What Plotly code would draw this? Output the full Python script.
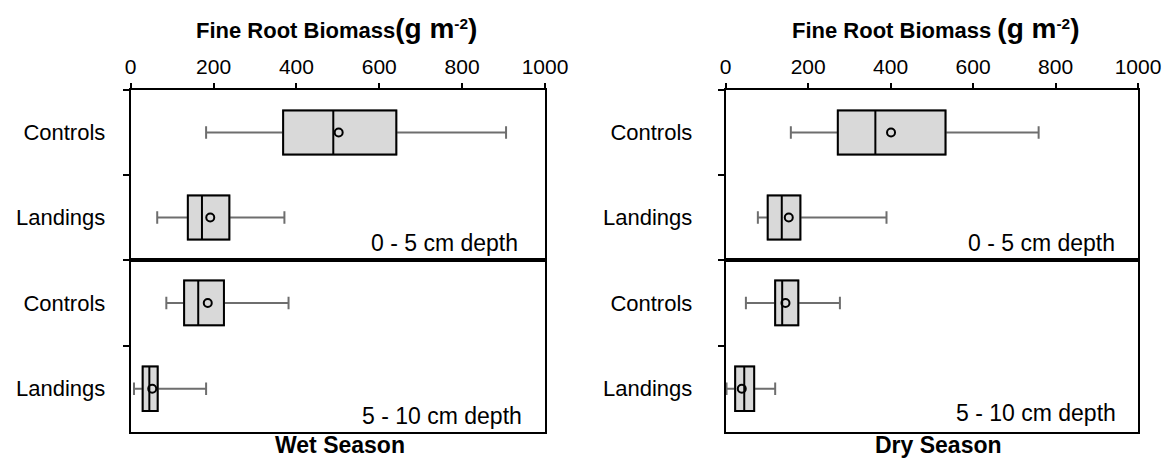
import plotly.graph_objects as go

# ---------------- data ----------------
categories = ["Controls", "Landings"]
x_ticks = [0, 200, 400, 600, 800, 1000]

# Wet season, 0-5 cm
wet_05_lf = [182, 64]
wet_05_q1 = [368, 138]
wet_05_med = [489, 172]
wet_05_q3 = [641, 238]
wet_05_uf = [906, 371]
wet_05_mean = [502, 192]
# Wet season, 5-10 cm
wet_510_lf = [86, 8]
wet_510_q1 = [129, 29]
wet_510_med = [163, 45]
wet_510_q3 = [225, 65]
wet_510_uf = [381, 182]
wet_510_mean = [186, 52]
# Dry season, 0-5 cm
dry_05_lf = [158, 78]
dry_05_q1 = [272, 102]
dry_05_med = [363, 136]
dry_05_q3 = [533, 181]
dry_05_uf = [759, 390]
dry_05_mean = [401, 153]
# Dry season, 5-10 cm
dry_510_lf = [49, 2]
dry_510_q1 = [120, 23]
dry_510_med = [137, 45]
dry_510_q3 = [176, 69]
dry_510_uf = [277, 120]
dry_510_mean = [145, 39]

FONT = "Liberation Sans, Arial, sans-serif"
W, H = 1165, 459

def px(x):
    return x / W

def py(y):
    return 1 - y / H

panels = [
    ("x", "y", wet_05_lf, wet_05_q1, wet_05_med, wet_05_q3, wet_05_uf, wet_05_mean),
    ("x2", "y2", dry_05_lf, dry_05_q1, dry_05_med, dry_05_q3, dry_05_uf, dry_05_mean),
    ("x3", "y3", wet_510_lf, wet_510_q1, wet_510_med, wet_510_q3, wet_510_uf, wet_510_mean),
    ("x4", "y4", dry_510_lf, dry_510_q1, dry_510_med, dry_510_q3, dry_510_uf, dry_510_mean),
]

fig = go.Figure()
for xa, ya, lf, q1, med, q3, uf, mean in panels:
    # grey whiskers (full box, transparent)
    fig.add_trace(go.Box(
        y=categories, q1=q1, median=med, q3=q3, lowerfence=lf, upperfence=uf,
        orientation="h", xaxis=xa, yaxis=ya, width=0.52, whiskerwidth=0.28,
        line=dict(color="#6e6e6e", width=2), fillcolor="rgba(0,0,0,0)",
        showlegend=False, hoverinfo="skip", boxpoints=False,
    ))
    # black box on top
    fig.add_trace(go.Box(
        y=categories, q1=q1, median=med, q3=q3, lowerfence=q1, upperfence=q3,
        orientation="h", xaxis=xa, yaxis=ya, width=0.52, whiskerwidth=0,
        line=dict(color="black", width=2), fillcolor="#d9d9d9",
        showlegend=False, hoverinfo="skip", boxpoints=False,
    ))
    # mean markers
    fig.add_trace(go.Scatter(
        x=mean, y=categories, mode="markers", xaxis=xa, yaxis=ya,
        marker=dict(symbol="circle-open", size=8, color="black", line=dict(width=2, color="black")),
        showlegend=False, hoverinfo="skip",
    ))

xdom_left = [px(130.7), px(545)]
xdom_right = [px(725.7), px(1138)]
ydom_top = [py(260), py(90)]
ydom_bot = [py(431.7), py(260)]

def xaxis(dom, anchor, top):
    d = dict(domain=dom, anchor=anchor, range=[0, 1000], tickvals=x_ticks,
             showline=True, mirror=True, linecolor="black", linewidth=2,
             showgrid=False, zeroline=False, fixedrange=True, automargin=False)
    if top:
        d.update(side="top", ticks="outside", ticklen=5, tickwidth=2, tickcolor="black",
                 showticklabels=True, tickfont=dict(family=FONT, size=21, color="black"),
                 ticklabelstandoff=1)
    else:
        d.update(ticks="", showticklabels=False)
    return d

def yaxis(dom, anchor, standoff):
    return dict(domain=dom, anchor=anchor, type="category", categoryorder="array",
                categoryarray=categories, range=[1.5, -0.5],
                showline=True, mirror=True, linecolor="black", linewidth=2,
                ticks="outside", tickson="boundaries", ticklen=6, tickwidth=2, tickcolor="black",
                tickfont=dict(family=FONT, size=22, color="black"), ticklabelstandoff=standoff,
                showgrid=False, zeroline=False, fixedrange=True, automargin=False)

fig.update_layout(
    width=W, height=H, margin=dict(l=0, r=0, t=0, b=0, autoexpand=False),
    paper_bgcolor="white", plot_bgcolor="white", boxmode="overlay",
    xaxis=xaxis(xdom_left, "y", True),
    yaxis=yaxis(ydom_top, "x", 19),
    xaxis2=xaxis(xdom_right, "y2", True),
    yaxis2=yaxis(ydom_top, "x2", 27),
    xaxis3=xaxis(xdom_left, "y3", False),
    yaxis3=yaxis(ydom_bot, "x3", 19),
    xaxis4=xaxis(xdom_right, "y4", False),
    yaxis4=yaxis(ydom_bot, "x4", 27),
    font=dict(family=FONT, color="black"),
)

ann = []
title_l = ("<b>Fine Root Biomass<span style='font-size:28px'>(g m</span>"
           "<sup>-2</sup><span style='font-size:28px'>)</span></b>")
title_r = ("<b>Fine Root Biomass <span style='font-size:28px'>(g m</span>"
           "<sup>-2</sup><span style='font-size:28px'>)</span></b>")
ann.append(dict(x=px(336), y=py(28), text=title_l, showarrow=False, xref="paper", yref="paper",
                xanchor="center", yanchor="middle", font=dict(family=FONT, size=22, color="black")))
ann.append(dict(x=px(935), y=py(28), text=title_r, showarrow=False, xref="paper", yref="paper",
                xanchor="center", yanchor="middle", font=dict(family=FONT, size=22, color="black")))
ann.append(dict(x=px(340), y=py(445), text="<b>Wet Season</b>", showarrow=False, xref="paper",
                yref="paper", xanchor="center", yanchor="middle",
                font=dict(family=FONT, size=23, color="black")))
ann.append(dict(x=px(938), y=py(445), text="<b>Dry Season</b>", showarrow=False, xref="paper",
                yref="paper", xanchor="center", yanchor="middle",
                font=dict(family=FONT, size=23, color="black")))
for xr, yc, t in [(520, 243, "0 - 5 cm depth"), (524, 416, "5 - 10 cm depth"),
                  (1117, 243, "0 - 5 cm depth"), (1118, 413, "5 - 10 cm depth")]:
    ann.append(dict(x=px(xr), y=py(yc), text=t, showarrow=False, xref="paper", yref="paper",
                    xanchor="right", yanchor="middle",
                    font=dict(family=FONT, size=23, color="black")))
fig.update_layout(annotations=ann)

fig.write_html("out.html")
